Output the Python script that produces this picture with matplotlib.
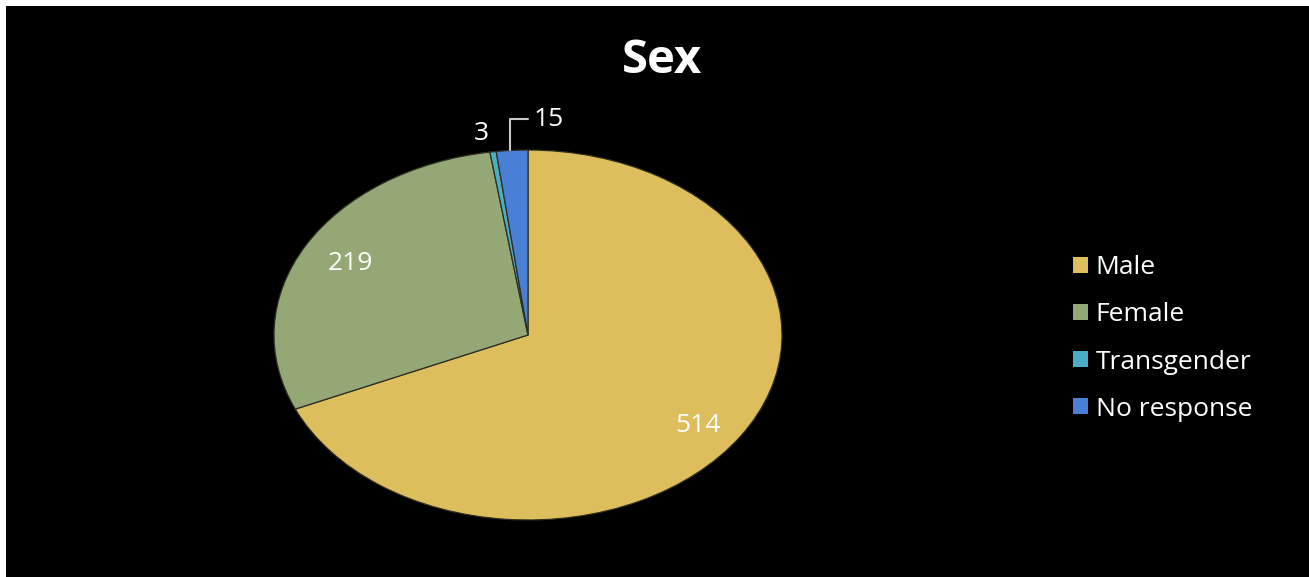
import matplotlib.pyplot as plt
import numpy as np
from matplotlib.patches import Patch, Rectangle

# survey answers for the "Sex" question
categories = ["Male", "Female", "Transgender", "No response"]
counts = [514, 219, 3, 15]
colors = ["#DDBD5C", "#93A874", "#4BACC6", "#4A7FD6"]

total = sum(counts)

fig = plt.figure(figsize=(13.09, 5.77), dpi=100, facecolor="black")

# white frame on the top and left edges
fig.patches.append(Rectangle((0, 1 - 6 / 577), 1, 6 / 577, transform=fig.transFigure,
                             facecolor="white", edgecolor="none", zorder=0))
fig.patches.append(Rectangle((0, 0), 6 / 1309, 1, transform=fig.transFigure,
                             facecolor="white", edgecolor="none", zorder=0))

# pie is squashed into an ellipse, so the axes are not square
ax = fig.add_axes([274 / 1309, 57 / 577, 508 / 1309, 370 / 577])
ax.set_facecolor("black")

def big_label(p):
    v = int(round(p * total / 100))
    return str(v) if v > 50 else ""

wedges, texts, autotexts = ax.pie(
    counts, colors=colors, startangle=90, counterclock=False,
    autopct=big_label, pctdistance=0.8,
    wedgeprops=dict(edgecolor="#2e2e22", linewidth=0.9),
    textprops=dict(color="white", fontsize=19, family="Open Sans"),
)
ax.set_aspect("auto")
ax.set_xlim(-1, 1)
ax.set_ylim(-1, 1)
ax.axis("off")

# nudge the male label a bit lower along the ellipse
x, y = autotexts[0].get_position()
autotexts[0].set_position((x, y - 0.05))

# small slices get labels outside the pie
w_tr = wedges[2]
mid = np.deg2rad((w_tr.theta1 + w_tr.theta2) / 2)
ax.text(1.13 * np.cos(mid) - 0.03, 1.12 * np.sin(mid) - 0.02, str(counts[2]),
        color="white", fontsize=19, family="Open Sans", ha="center", va="center")

w_nr = wedges[3]
mid = np.deg2rad((w_nr.theta1 + w_nr.theta2) / 2)
ax.annotate(str(counts[3]), xy=(np.cos(mid) - 0.01, np.sin(mid)),
            xytext=(0.02, 1.165), color="white", fontsize=19, family="Open Sans",
            ha="left", va="center", annotation_clip=False,
            arrowprops=dict(arrowstyle="-", color="#c8c8c8", lw=1.5, shrinkA=2, shrinkB=0,
                            connectionstyle="angle,angleA=0,angleB=90,rad=0"))

fig.text(0.506, 0.895, "Sex", color="white", fontsize=34, fontweight="bold",
         family="Open Sans", ha="center", va="center")

handles = [Patch(facecolor=c, edgecolor="none", label=l) for c, l in zip(colors, categories)]
leg = fig.legend(handles=handles, loc="upper left", bbox_to_anchor=(1060 / 1309, 1 - 242 / 577),
                 frameon=False, fontsize=19, handlelength=0.55, handleheight=0.55,
                 handletextpad=0.3, labelspacing=0.84, borderpad=0)
for t in leg.get_texts():
    t.set_color("white")
    t.set_family("Open Sans")

plt.savefig("out.png", dpi=100, facecolor="black")
